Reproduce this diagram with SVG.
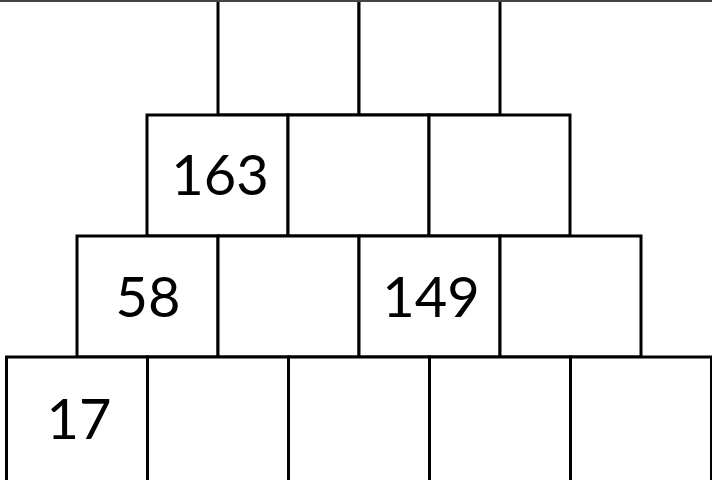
<svg xmlns="http://www.w3.org/2000/svg" width="712" height="480" viewBox="0 0 712 480">
<style>
.c{fill:#fff;stroke:#000;stroke-width:3}
.t{font-family:Lato,"Liberation Sans",sans-serif;font-size:56px;fill:#000;text-anchor:middle}
</style>
<rect width="712" height="480" fill="#fff"/>
<g id="row1">
<g id="r1c1"><rect class="c" x="218" y="-10" width="141" height="125"/></g>
<g id="r1c2"><rect class="c" x="359" y="-10" width="141" height="125"/></g>
</g>
<line x1="0" y1="1" x2="712" y2="1" stroke="#444" stroke-width="2"/>
<g id="row2">
<g id="r2c1"><rect class="c" x="147" y="115" width="141" height="121"/><text class="t" x="220" y="195">163</text></g>
<g id="r2c2"><rect class="c" x="288" y="115" width="141" height="121"/></g>
<g id="r2c3"><rect class="c" x="429" y="115" width="141" height="121"/></g>
</g>
<g id="row3">
<g id="r3c1"><rect class="c" x="77" y="236" width="141" height="121"/><text class="t" x="148" y="317">58</text></g>
<g id="r3c2"><rect class="c" x="218" y="236" width="141" height="121"/></g>
<g id="r3c3"><rect class="c" x="359" y="236" width="141" height="121"/><text class="t" x="431" y="317">149</text></g>
<g id="r3c4"><rect class="c" x="500" y="236" width="141" height="121"/></g>
</g>
<g id="row4">
<g id="r4c1"><rect class="c" x="6.5" y="357" width="141" height="130"/><text class="t" x="79" y="439">17</text></g>
<g id="r4c2"><rect class="c" x="147.5" y="357" width="141" height="130"/></g>
<g id="r4c3"><rect class="c" x="288.5" y="357" width="141" height="130"/></g>
<g id="r4c4"><rect class="c" x="429.5" y="357" width="141" height="130"/></g>
<g id="r4c5"><rect class="c" x="570.5" y="357" width="141" height="130"/></g>
</g>
</svg>
